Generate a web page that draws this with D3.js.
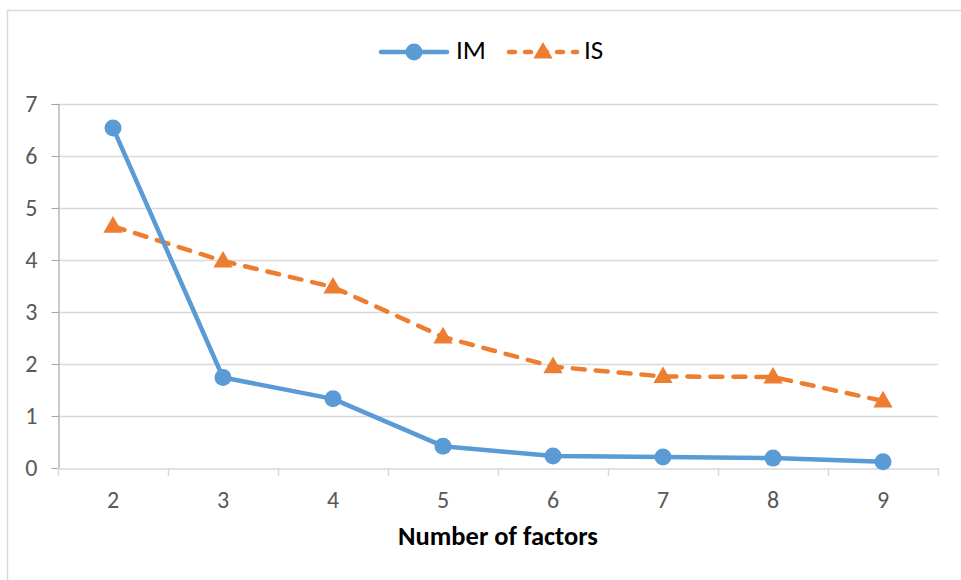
<!DOCTYPE html>
<html>
<head>
<meta charset="utf-8">
<script src="https://cdn.jsdelivr.net/npm/d3@7"></script>
<style>
  html, body { margin: 0; padding: 0; background: #fff; }
  svg { display: block; }
  svg text { font-family: Calibri, Carlito, Lato, "Open Sans", sans-serif; }
</style>
</head>
<body>
<svg id="chart" width="961" height="580"></svg>
<script>
// Number of factors on the x axis
const factors = [2, 3, 4, 5, 6, 7, 8, 9];
// Series values
const imValues = [6.54, 1.74, 1.33, 0.42, 0.23, 0.21, 0.19, 0.12];
const isValues = [4.65, 3.98, 3.48, 2.52, 1.95, 1.76, 1.75, 1.29];
// Y axis ticks
const yTicks = [0, 1, 2, 3, 4, 5, 6, 7];

const seriesList = [
  { name: "IM", values: imValues, color: "#5b9bd5", dash: null, marker: "circle" },
  { name: "IS", values: isValues, color: "#ed7d31", dash: "12,11", marker: "triangle" }
];

const svg = d3.select("#chart");
const W = 961, H = 580;
const plot = { left: 58, right: 938, top: 104, bottom: 468 };

// Outer chart frame
svg.append("rect")
  .attr("x", 7.5).attr("y", 10.5)
  .attr("width", W + 20).attr("height", H + 20)
  .attr("fill", "#fff").attr("stroke", "#d9d9d9").attr("stroke-width", 1.5);

const x = d3.scaleBand().domain(factors).range([plot.left, plot.right]).paddingInner(0).paddingOuter(0);
const y = d3.scaleLinear().domain([0, 7]).range([plot.bottom, plot.top]);
const cx = d => x(d) + x.bandwidth() / 2;

// Gridlines
svg.append("g")
  .selectAll("line")
  .data(yTicks.filter(t => t > 0))
  .join("line")
  .attr("x1", plot.left).attr("x2", plot.right)
  .attr("y1", d => Math.round(y(d)) + 0.5).attr("y2", d => Math.round(y(d)) + 0.5)
  .attr("stroke", "#d9d9d9").attr("stroke-width", 1.5);

// Y axis
const yAxis = svg.append("g")
  .attr("transform", `translate(${plot.left + 0.5},0)`)
  .call(d3.axisLeft(y).tickValues(yTicks).tickSize(7).tickPadding(14).tickFormat(d3.format("d")));
yAxis.attr("font-family", null);
yAxis.select(".domain").attr("stroke", "#a6a6a6").attr("stroke-width", 1.2);
yAxis.selectAll(".tick line").attr("stroke", "#a6a6a6");
yAxis.selectAll("text").attr("fill", "#595959").attr("font-size", 24);

// X axis
const xAxis = svg.append("g")
  .attr("transform", `translate(0,${plot.bottom + 0.5})`)
  .call(d3.axisBottom(x).tickSize(0).tickPadding(22));
xAxis.attr("font-family", null);
xAxis.select(".domain").attr("stroke", "#d9d9d9").attr("stroke-width", 1.5);
xAxis.selectAll("text").attr("fill", "#595959").attr("font-size", 24);

// Category boundary ticks on the x axis
const boundaries = factors.map(f => x(f)).concat([plot.right]);
svg.append("g")
  .selectAll("line")
  .data(boundaries)
  .join("line")
  .attr("x1", d => d + 0.5).attr("x2", d => d + 0.5)
  .attr("y1", plot.bottom).attr("y2", plot.bottom + 8)
  .attr("stroke", "#d9d9d9").attr("stroke-width", 1.5);

// X axis title
svg.append("text")
  .attr("x", 498).attr("y", 545)
  .attr("text-anchor", "middle")
  .attr("font-size", 26.5).attr("font-weight", "bold").attr("fill", "#000")
  .text("Number of factors");

const triangle = d3.symbol().type(d3.symbolTriangle).size(160);

function drawMarker(g, type, color, px, py) {
  if (type === "circle") {
    g.append("circle").attr("cx", px).attr("cy", py).attr("r", 8.5).attr("fill", color);
  } else {
    g.append("path").attr("d", triangle).attr("transform", `translate(${px},${py + 1})`).attr("fill", color);
  }
}

const line = d3.line().x(d => cx(d.f)).y(d => y(d.v));

// Series lines and markers
seriesList.slice().reverse().forEach(s => {
  const pts = factors.map((f, i) => ({ f, v: s.values[i] }));
  const g = svg.append("g");
  g.append("path")
    .attr("d", line(pts))
    .attr("fill", "none")
    .attr("stroke", s.color)
    .attr("stroke-width", 4.5)
    .attr("stroke-linecap", "round")
    .attr("stroke-linejoin", "round")
    .attr("stroke-dasharray", s.dash);
  pts.forEach(p => drawMarker(g, s.marker, s.color, cx(p.f), y(p.v)));
});

// Legend
const legendY = 52;
const legend = [
  { s: seriesList[0], x0: 381, x1: 447, tx: 456 },
  { s: seriesList[1], x0: 509, x1: 577, tx: 584 }
];
legend.forEach(L => {
  const g = svg.append("g");
  g.append("line")
    .attr("x1", L.x0).attr("x2", L.x1).attr("y1", legendY).attr("y2", legendY)
    .attr("stroke", L.s.color).attr("stroke-width", 4.5)
    .attr("stroke-linecap", "round")
    .attr("stroke-dasharray", L.s.dash ? "6,10" : null);
  drawMarker(g, L.s.marker, L.s.color, (L.x0 + L.x1) / 2, legendY);
  g.append("text")
    .attr("x", L.tx).attr("y", 59)
    .attr("font-size", 27).attr("fill", "#000")
    .text(L.s.name);
});
</script>
</body>
</html>
